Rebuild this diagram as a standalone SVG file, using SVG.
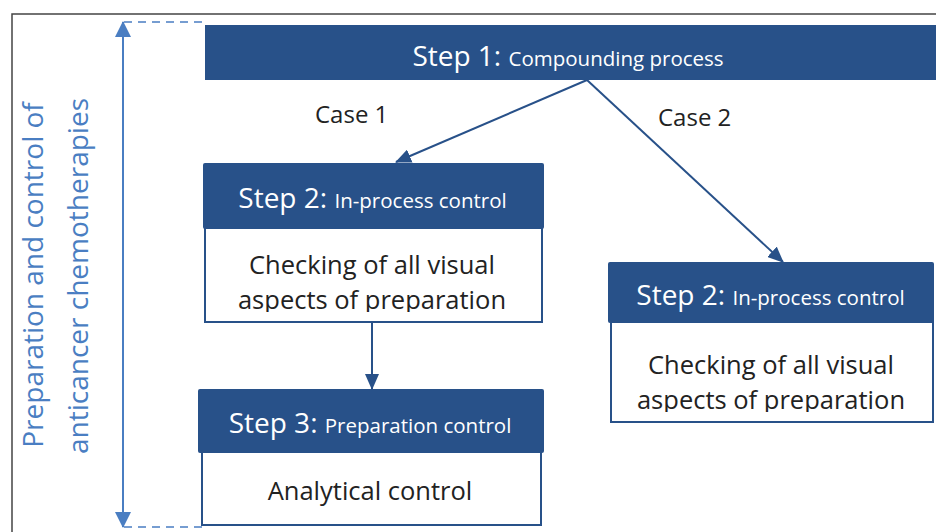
<svg xmlns="http://www.w3.org/2000/svg" width="936" height="532" viewBox="0 0 936 532">
<style>
.hdr{fill:#285189}
.body{fill:#fff;stroke:#285189;stroke-width:2}
.ht{font-family:"Open Sans",sans-serif;fill:#fff;text-anchor:middle}
.big{font-size:28px}
.sm{font-size:20.5px}
.bt{font-family:"Open Sans",sans-serif;font-size:25.5px;fill:#222;text-anchor:middle}
.case{font-family:"Open Sans",sans-serif;font-size:24px;fill:#222}
.conn{stroke:#285189;stroke-width:2;fill:none}
.side{font-family:"Open Sans",sans-serif;font-size:28px;fill:#4a7ec2;text-anchor:middle}
</style>
<defs>
<marker id="ah" markerWidth="16" markerHeight="14" refX="15" refY="7" orient="auto" markerUnits="userSpaceOnUse">
<path d="M0,0 L16,7 L0,14 Z" fill="#285189"/>
</marker>
<marker id="lb" markerWidth="16" markerHeight="16" refX="15" refY="8" orient="auto" markerUnits="userSpaceOnUse">
<path d="M0,0 L16,8 L0,16 Z" fill="#4a7ec2"/>
</marker>
<clipPath id="c1"><rect x="206" y="230" width="335" height="82"/></clipPath>
<clipPath id="c2"><rect x="612" y="324" width="320" height="88"/></clipPath>
</defs>
<rect width="936" height="532" fill="#fff"/>
<path d="M12,532 V14 H936" fill="none" stroke="#444" stroke-width="1.5"/>
<g id="side">
<line x1="123" y1="500" x2="123" y2="50" stroke="#4a7ec2" stroke-width="2"/>
<line x1="123" y1="100" x2="123" y2="22" stroke="#4a7ec2" stroke-width="2" marker-end="url(#lb)"/>
<line x1="123" y1="450" x2="123" y2="527" stroke="#4a7ec2" stroke-width="2" marker-end="url(#lb)"/>
<line x1="124" y1="22" x2="206" y2="22" stroke="#4a7ec2" stroke-width="1.5" stroke-dasharray="8,6"/>
<line x1="124" y1="527" x2="204" y2="527" stroke="#4a7ec2" stroke-width="1.5" stroke-dasharray="8,6"/>
<text class="side" transform="translate(43,275) rotate(-90)">Preparation and control of</text>
<text class="side" transform="translate(88,276) rotate(-90)">anticancer chemotherapies</text>
</g>
<g id="connectors">
<line class="conn" x1="587" y1="80" x2="396" y2="162" marker-end="url(#ah)"/>
<line class="conn" x1="587" y1="80" x2="783" y2="262" marker-end="url(#ah)"/>
<line class="conn" x1="372" y1="322" x2="372" y2="389" marker-end="url(#ah)"/>
<text class="case" x="315" y="123">Case 1</text>
<text class="case" x="658" y="126">Case 2</text>
</g>
<g id="step1">
<rect class="hdr" x="205" y="25" width="731" height="55"/>
<text class="ht" x="568" y="66"><tspan class="big">Step 1: </tspan><tspan class="sm">Compounding process</tspan></text>
</g>
<g id="step2a">
<rect class="body" x="205" y="228" width="337" height="94"/>
<rect class="hdr" x="203" y="163" width="341" height="66" rx="2"/>
<text class="ht" x="372.5" y="208"><tspan class="big">Step 2: </tspan><tspan class="sm">In-process control</tspan></text>
<g clip-path="url(#c1)">
<text class="bt" x="372" y="274">Checking of all visual</text>
<text class="bt" x="372" y="308.5">aspects of preparation</text>
</g>
</g>
<g id="step2b">
<rect class="body" x="611" y="322" width="322" height="100"/>
<rect class="hdr" x="608" y="262" width="326" height="61" rx="2"/>
<text class="ht" x="770.5" y="305"><tspan class="big">Step 2: </tspan><tspan class="sm">In-process control</tspan></text>
<g clip-path="url(#c2)">
<text class="bt" x="771" y="374">Checking of all visual</text>
<text class="bt" x="771" y="408.5">aspects of preparation</text>
</g>
</g>
<g id="step3">
<rect class="body" x="202" y="452" width="339" height="73"/>
<rect class="hdr" x="198" y="389" width="346" height="64" rx="2"/>
<text class="ht" x="370" y="433"><tspan class="big">Step 3: </tspan><tspan class="sm">Preparation control</tspan></text>
<text class="bt" x="370" y="500">Analytical control</text>
</g>
</svg>
